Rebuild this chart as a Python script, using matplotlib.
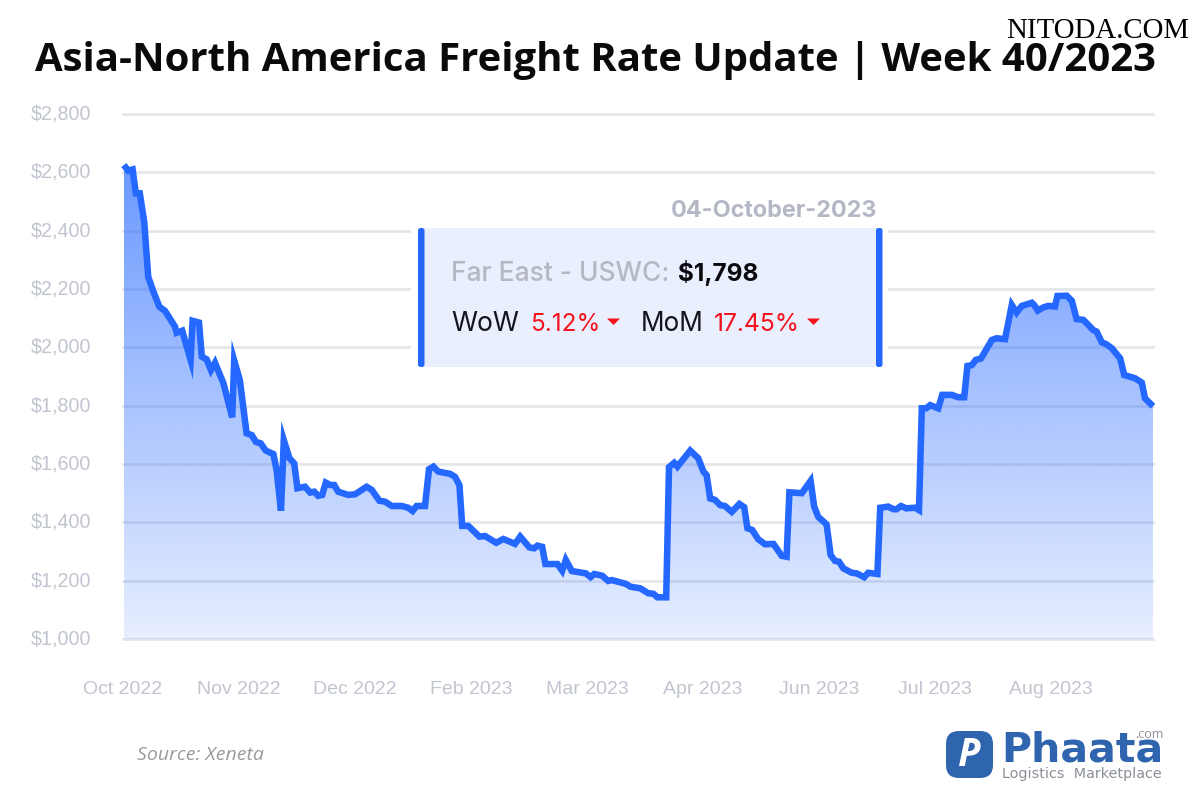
"""
Asia-North America freight rate chart
"""
import numpy as np
import matplotlib
matplotlib.use('Agg')
import matplotlib.pyplot as plt
from matplotlib.patches import Polygon, Rectangle, FancyBboxPatch
from matplotlib.transforms import ScaledTranslation

# position along the category axis, 29 steps between labels
obs_pos = [0.2, 1.3, 2.4, 3.2, 4.2, 5.3, 6.3, 7.6, 9.1, 10.5,
           13, 13.4, 14.8, 16.9, 17.4, 19, 19.7, 20.9, 22, 23,
           25.1, 27.3, 27.8, 29.2, 30.9, 32.2, 33.2, 34.4, 35.7, 37.6,
           38.4, 39.5, 40.2, 41.6, 42.8, 43.6, 45.5, 46.8, 47.8, 48.8,
           49.8, 50.7, 51.8, 52.8, 53.8, 56.3, 58, 60.9, 62.2, 64.1,
           65.5, 67.2, 69.7, 71.3, 72.4, 73.4, 75.5, 76.5, 77.6, 78.8,
           81.8, 83, 84.1, 84.8, 86.3, 89.1, 90.5, 93.3, 95.1, 98,
           99.3, 101.6, 102.8, 103.6, 104.8, 105.6, 108.6, 109.8, 110.7, 112.2,
           115.7, 116.9, 117.8, 119.8, 121.3, 122.2, 125.7, 126.9, 129.3, 131.3,
           132.6, 133.6, 135.8, 136.5, 137.8, 138.6, 141.8, 143.8, 145.1, 145.9,
           146.8, 148, 149.3, 150.5, 152.2, 154.1, 155.3, 156.1, 157.3, 158.8,
           160.5, 162.6, 164.7, 165.9, 166.6, 169.7, 171.9, 172.8, 173.8, 175.9,
           176.9, 178, 179, 180.1, 182.2, 183.4, 185.3, 186.3, 188.6, 189.3,
           191.3, 192.6, 193.4, 194.5, 195.8, 198, 199, 199.7, 200.8, 201.8,
           203.8, 204.8, 207.2, 208.8, 210.3, 211.1, 212.2, 213.2, 214.5, 217.2,
           218.4, 220.5, 222.2, 223.4, 224.7, 227.2, 227.8, 228.7, 230.1, 231.3,
           233, 233.6, 235.9, 237.2, 238.4, 240.1, 242.6, 243.4, 244.7, 245.8,
           247.2, 249.3, 250.3, 253, 254.7, 255.5, 257.5]
rates = [2625, 2606, 2610, 2528, 2528, 2431, 2242, 2191, 2139, 2125,
         2071, 2050, 2057, 1957, 2091, 2085, 1968, 1959, 1922, 1947,
         1877, 1760, 1955, 1888, 1705, 1699, 1676, 1671, 1646, 1634,
         1579, 1440, 1682, 1620, 1602, 1517, 1522, 1502, 1505, 1491,
         1494, 1536, 1528, 1528, 1505, 1494, 1496, 1522, 1511, 1474,
         1471, 1456, 1456, 1450, 1439, 1456, 1456, 1582, 1591, 1574,
         1566, 1556, 1528, 1388, 1388, 1351, 1353, 1330, 1343, 1326,
         1351, 1314, 1311, 1320, 1316, 1257, 1257, 1234, 1271, 1233,
         1225, 1212, 1223, 1217, 1199, 1202, 1189, 1179, 1174, 1157,
         1155, 1143, 1143, 1589, 1604, 1591, 1646, 1620, 1574, 1562,
         1482, 1477, 1459, 1456, 1436, 1463, 1452, 1380, 1374, 1342,
         1325, 1326, 1285, 1282, 1503, 1500, 1542, 1454, 1419, 1393,
         1288, 1268, 1265, 1242, 1227, 1225, 1212, 1227, 1223, 1450,
         1454, 1445, 1445, 1456, 1448, 1450, 1442, 1791, 1791, 1802,
         1791, 1837, 1837, 1829, 1829, 1936, 1939, 1957, 1962, 2025,
         2031, 2028, 2145, 2119, 2142, 2153, 2145, 2126, 2137, 2142,
         2140, 2176, 2177, 2160, 2097, 2094, 2059, 2054, 2017, 2011,
         1997, 1962, 1905, 1894, 1879, 1825, 1798]
tick_pos = [0, 29, 58, 87, 116, 145, 174, 203, 232]
tick_labels = ['Oct 2022', 'Nov 2022', 'Dec 2022', 'Feb 2023', 'Mar 2023',
               'Apr 2023', 'Jun 2023', 'Jul 2023', 'Aug 2023']
y_ticks = [1000, 1200, 1400, 1600, 1800, 2000, 2200, 2400, 2600, 2800]

BLUE = '#2468ff'
GRID = '#e5e6ea'
TICK = '#c1c5d0'
MUTED = '#b4b8c5'
RED = '#f5121f'

fig = plt.figure(figsize=(12, 8), dpi=100, facecolor='white')
ax = fig.add_axes([123 / 1200, 1 - 639 / 800, 1030 / 1200, 525 / 800])
ax.set_xlim(0, 257.5)
ax.set_ylim(1000, 2800)
for s in ax.spines.values():
    s.set_visible(False)

ax.set_yticks(y_ticks)
ax.set_yticklabels(['$%s' % format(v, ',') for v in y_ticks], family='Liberation Sans',
                   fontsize=14.1, color=TICK)
ax.set_xticks(tick_pos)
ax.set_xticklabels(tick_labels, family='Liberation Sans', fontsize=14, color=TICK)
ax.tick_params(axis='y', length=0, pad=23)
ax.tick_params(axis='x', length=0, pad=30)
ax.grid(axis='y', color=GRID, lw=2, clip_on=False)
ax.set_axisbelow(True)

# y labels sit a little above their grid lines
nudge = ScaledTranslation(0, 2 / 100, fig.dpi_scale_trans)
for lab in ax.get_yticklabels():
    lab.set_transform(lab.get_transform() + nudge)

# gradient under the line
grad = np.zeros((256, 2, 4))
grad[..., :3] = matplotlib.colors.to_rgb(BLUE)
grad[..., 3] = np.linspace(0.68, 0.11, 256)[:, None]
top = max(rates)
im = ax.imshow(grad, extent=[obs_pos[0], obs_pos[-1], 1000, top], origin='upper',
               aspect='auto', zorder=2)
verts = [(obs_pos[0], 1000)] + list(zip(obs_pos, rates)) + [(obs_pos[-1], 1000)]
clip = Polygon(verts, closed=True, transform=ax.transData, fc='none', ec='none')
ax.add_patch(clip)
im.set_clip_path(clip)
ax.set_xlim(0, 257.5)
ax.set_ylim(1000, 2800)

ax.plot(obs_pos, rates, color=BLUE, lw=4.7, solid_joinstyle='miter', solid_capstyle='butt',
        zorder=3, clip_on=False)

# overlay in pixel coordinates for the tooltip, title and logo
ov = fig.add_axes([0, 0, 1, 1], facecolor='none')
ov.set_xlim(0, 1200)
ov.set_ylim(800, 0)
ov.axis('off')

ov.text(595, 60, 'Asia-North America Freight Rate Update | Week 40/2023', family='Open Sans',
        weight='bold', fontsize=28.9, color='#0a0a0a', ha='center', va='center')
ov.text(1098, 31, 'NITODA.COM', family='Liberation Serif', fontsize=20.8, color='black',
        ha='center', va='center')

# tooltip
ov.add_patch(Rectangle((411, 222), 477, 150, fc='white', ec='none'))
ov.add_patch(Rectangle((420, 228), 460, 139, fc='#e9effd', ec='none'))
for x0 in (418, 876):
    ov.add_patch(FancyBboxPatch((x0 + 2, 230), 2.5, 135, boxstyle='round,pad=2,rounding_size=2.5',
                                fc=BLUE, ec='none'))
ov.text(877, 217, '04-October-2023', family='Inter', weight='bold', fontsize=16.8, color=MUTED,
        ha='right', va='baseline')
ov.text(451, 281, 'Far East - USWC:', family='Inter', weight='medium', fontsize=19, color=MUTED,
        va='baseline')
ov.text(678, 281, '$1,798', family='Inter', weight='bold', fontsize=17.5, color='#0b0b0f', va='baseline')
ov.text(451, 331, 'WoW', family='Inter', fontsize=19, color='#14141c', va='baseline')
ov.text(530, 331, '5.12%', family='Inter', fontsize=17.5, color=RED, va='baseline')
ov.text(641, 331, 'MoM', family='Inter', fontsize=18.8, color='#14141c', va='baseline')
ov.text(714, 331, '17.45%', family='Inter', fontsize=17.8, color=RED, va='baseline')
for x0 in (607, 807):
    ov.add_patch(Polygon([(x0, 318.5), (x0 + 13, 318.5), (x0 + 6.5, 325)], closed=True, fc=RED, ec='none'))

ov.text(137, 755, 'Source: Xeneta', family='Open Sans', style='italic', fontsize=14,
        color='#9a9a9a', ha='left', va='center')

# logo
LOGO = '#2f65ae'
ov.add_patch(FancyBboxPatch((953, 738), 33, 33, boxstyle='round,pad=7,rounding_size=13', fc=LOGO, ec='none'))
ov.text(969, 755, 'P', family='Open Sans', weight='bold', style='italic', fontsize=28, color='white',
        ha='center', va='center')
ov.text(1001, 762, 'Phaata', family='DejaVu Sans', weight='bold', fontsize=29.5, color=LOGO,
        ha='left', va='baseline')
ov.text(1164, 735, '.com', family='Open Sans', fontsize=9, color='#8a8f98', ha='right', va='center')
ov.text(1002, 774, 'Logistics  Marketplace', family='DejaVu Sans', fontsize=10.4, color='#8a8f98',
        ha='left', va='center')

fig.savefig('out.png', dpi=100, facecolor='white')
